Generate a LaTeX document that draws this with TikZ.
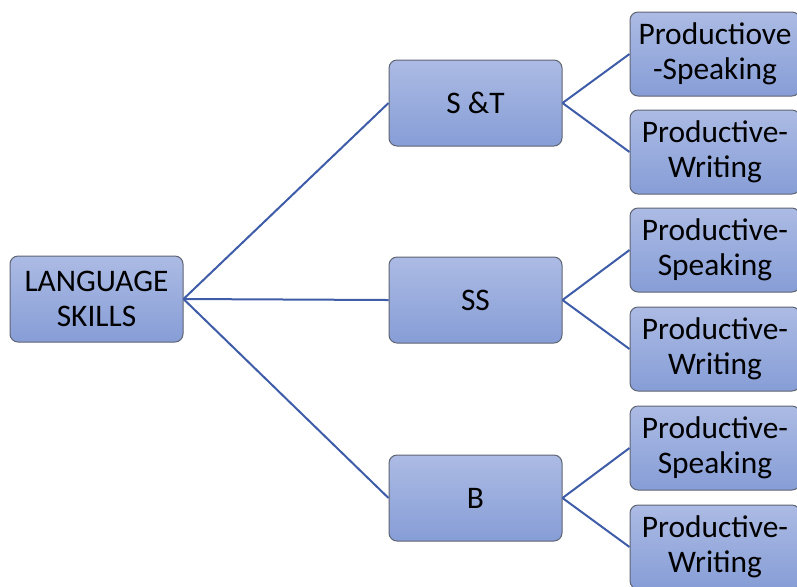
\documentclass[tikz,border=0pt]{standalone}
\usepackage{fontspec}
\setmainfont{Carlito}
\definecolor{boxtop}{RGB}{172,187,228}
\definecolor{boxbottom}{RGB}{134,157,214}
\definecolor{boxline}{RGB}{95,100,115}
\definecolor{linkblue}{RGB}{62,92,168}
\begin{document}
\begin{tikzpicture}[x=0.5pt, y=-0.5pt]
        \tikzstyle{every node}=[draw=boxline, line width=0.5pt, rounded corners=4pt, top color=boxtop, bottom color=boxbottom, align=center, inner sep=0pt, font=\fontsize{15.7}{17.5}\selectfont]
        \tikzstyle{skill}=[minimum width=86.5pt, minimum height=43pt]
        \tikzstyle{leaf}=[minimum width=85pt, minimum height=42pt]
        \tikzstyle{link}=[draw=linkblue, line width=1pt]
        \useasboundingbox (0,0) rectangle (797,586);
        \node [skill] (lang) at (96.5,299) {LANGUAGE\\SKILLS};
        \node [skill] (st) at (475.5,103) {S \&T};
        \node [skill] (ss) at (475.5,300) {SS};
        \node [skill] (b) at (475.5,498) {B};
        \node [leaf] (st1) at (715,54) {Productiove\\-Speaking};
        \node [leaf] (st2) at (715,152) {Productive-\\Writing};
        \node [leaf] (ss1) at (715,250) {Productive-\\Speaking};
        \node [leaf] (ss2) at (715,349) {Productive-\\Writing};
        \node [leaf] (b1) at (715,448) {Productive-\\Speaking};
        \node [leaf] (b2) at (715,547) {Productive-\\Writing};
        \foreach \mid in {st,ss,b}
        {
            \draw [link] (lang.east) -- (\mid.west);
            \draw [link] (\mid.east) -- (\mid1.west);
            \draw [link] (\mid.east) -- (\mid2.west);
        }
\end{tikzpicture}
\end{document}
